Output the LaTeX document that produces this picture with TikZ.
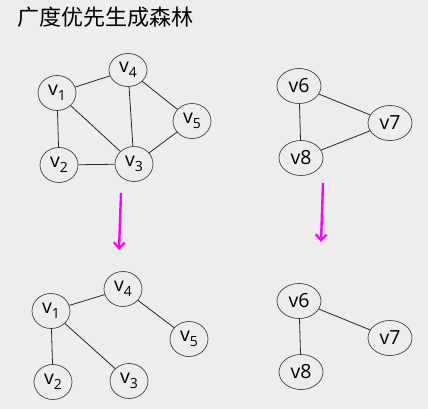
\documentclass[tikz,border=0pt]{standalone}
\usepackage{fontspec}
\setmainfont{Open Sans}
\newfontfamily\cjk{Noto Sans CJK SC}
\usetikzlibrary{arrows.meta,shapes.geometric}
\definecolor{bg}{HTML}{EDEDED}
\definecolor{mag}{HTML}{FF00FF}
\newcommand{\vsub}[1]{v\raisebox{-0.45ex}{\fontsize{14}{14}\selectfont #1}}
\begin{document}
\begin{tikzpicture}[x=1pt,y=-1pt,
  vert/.style={draw=black!75,line width=0.7pt,ellipse,inner sep=0pt,minimum width=38pt,minimum height=35pt,font=\fontsize{19.5}{19.5}\selectfont},
  vwide/.style={vert,minimum width=44pt},
  edge/.style={draw=black!85,line width=0.8pt},
  flow/.style={draw=mag,line width=2.4pt,-{Straight Barb[length=6pt,width=11pt,line width=2.2pt]}}]
\fill[bg] (0,0) rectangle (428,409);
\useasboundingbox (0,0) rectangle (428,409);
\node[font=\cjk\fontsize{22}{22}\selectfont,anchor=west,inner sep=0pt] (title) at (17,17) {广度优先生成森林};
% top left graph
\node[vert] (a1) at (57,93) {\vsub{1}};
\node[vert,minimum height=33pt] (a4) at (128,70) {\vsub{4}};
\node[vert] (a5) at (192,121) {\vsub{5}};
\node[vert] (a2) at (59,165) {\vsub{2}};
\node[vert] (a3) at (134,164) {\vsub{3}};
\draw[edge] (a1)--(a4) (a1)--(a2) (a1)--(a3) (a4)--(a3) (a4)--(a5) (a2)--(a3) (a3)--(a5);
% top right graph
\node[vwide] (b6) at (299,86) {v6};
\node[vwide] (b7) at (390,123) {v7};
\node[vwide] (b8) at (301,158) {v8};
\draw[edge] (b6)--(b7) (b6)--(b8) (b8)--(b7);
% arrows
\coordinate (l1) at (121,193); \coordinate (l2) at (119,250);
\coordinate (r1) at (323,183); \coordinate (r2) at (321,242);
\draw[flow] (l1)--(l2);
\draw[flow] (r1)--(r2);
% bottom left tree
\node[vert] (c1) at (51,311) {\vsub{1}};
\node[vert] (c4) at (123,289) {\vsub{4}};
\node[vert] (c5) at (189,339) {\vsub{5}};
\node[vert] (c2) at (53,382) {\vsub{2}};
\node[vert] (c3) at (129,381) {\vsub{3}};
\draw[edge] (c1)--(c4) (c4)--(c5) (c1)--(c2) (c1)--(c3);
% bottom right tree
\node[vwide] (d6) at (299,301) {v6};
\node[vwide] (d7) at (390,338) {v7};
\node[vwide] (d8) at (301,372) {v8};
\draw[edge] (d6)--(d7) (d6)--(d8);
\end{tikzpicture}
\end{document}
